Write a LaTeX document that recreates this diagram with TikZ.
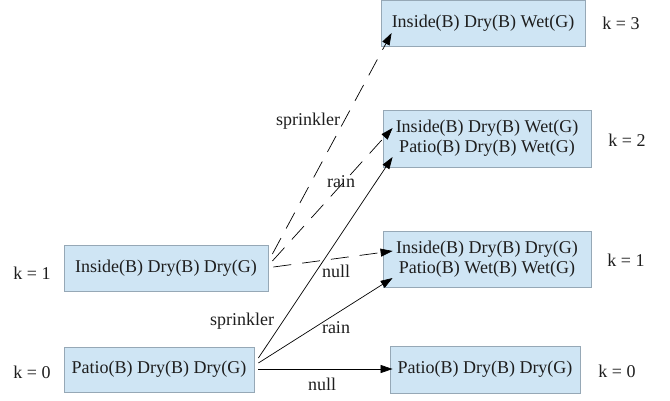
\documentclass[tikz,border=0pt]{standalone}
\usepackage{fontspec}
\setmainfont{Liberation Serif}
\newfontfamily\timesfont{Liberation Serif}
\usetikzlibrary{arrows.meta,calc}
\definecolor{boxfill}{RGB}{207,229,244}
\definecolor{boxline}{RGB}{150,168,182}
\definecolor{txt}{RGB}{30,30,30}
\begin{document}
\begin{tikzpicture}[x=1pt,y=-1pt,
  font=\timesfont\fontsize{18}{20}\selectfont, text=txt,
  state/.style={draw=boxline,fill=boxfill,line width=0.8pt,inner sep=0pt,align=center},
  klabel/.style={inner sep=0pt},
  elabel/.style={inner sep=0pt},
  conn/.style={line width=0.7pt,-{Triangle[length=12pt,width=8pt]}},
  dashconn/.style={conn,dash pattern=on 18pt off 11pt}]
\useasboundingbox (0,0) rectangle (670,400);
\fill[white] (0,0) rectangle (670,400);
% states
\node[state,minimum width=204pt,minimum height=46pt] (n3) at (483,23) {Inside(B) Dry(B) Wet(G)};
\node[state,minimum width=208pt,minimum height=57pt] (n2) at (487,138.5) {Inside(B) Dry(B) Wet(G)\\Patio(B) Dry(B) Wet(G)};
\node[state,minimum width=208pt,minimum height=56pt] (n1r) at (487,259) {Inside(B) Dry(B) Dry(G)\\Patio(B) Wet(B) Wet(G)};
\node[state,minimum width=190pt,minimum height=47pt] (n0r) at (485,369.5) {Patio(B) Dry(B) Dry(G)};
\node[state,minimum width=204pt,minimum height=46pt] (n1l) at (166,268) {Inside(B) Dry(B) Dry(G)};
\node[state,minimum width=190pt,minimum height=45pt] (n0l) at (159,369.5) {Patio(B) Dry(B) Dry(G)};
% k labels
\node[klabel] (k3) at (621,23) {k = 3};
\node[klabel] (k2) at (627,140) {k = 2};
\node[klabel] (k1r) at (626,260) {k = 1};
\node[klabel] (k0r) at (617,371) {k = 0};
\node[klabel] (k1l) at (32,273) {k = 1};
\node[klabel] (k0l) at (32,372) {k = 0};
% connectors from Inside(B) Dry(B) Dry(G)
\draw[dashconn] ($(n1l.east)+(4,-14)$) -- ($(n3.west)+(11,10)$);
\draw[dashconn] ($(n1l.east)+(4,-7)$) -- ($(n2.west)+(10,-10.5)$);
\draw[dashconn] ($(n1l.east)+(5,-1)$) -- ($(n1r.west)+(10,-8)$);
% connectors from Patio(B) Dry(B) Dry(G)
\draw[conn] ($(n0l.east)+(4,-11.5)$) -- ($(n2.west)+(10,18.5)$);
\draw[conn] ($(n0l.east)+(4,-6.5)$) -- ($(n1r.west)+(10,19)$);
\draw[conn] ($(n0l.east)+(4,-0.5)$) -- ($(n0r.west)+(3,-0.5)$);
% edge labels
\node[elabel] (l1) at (308,121) {sprinkler};
\node[elabel] (l2) at (341,182) {rain};
\node[elabel] (l3) at (336,271) {null};
\node[elabel] (l4) at (242,321) {sprinkler};
\node[elabel] (l5) at (336,328) {rain};
\node[elabel] (l6) at (322,384) {null};
\end{tikzpicture}
\end{document}
